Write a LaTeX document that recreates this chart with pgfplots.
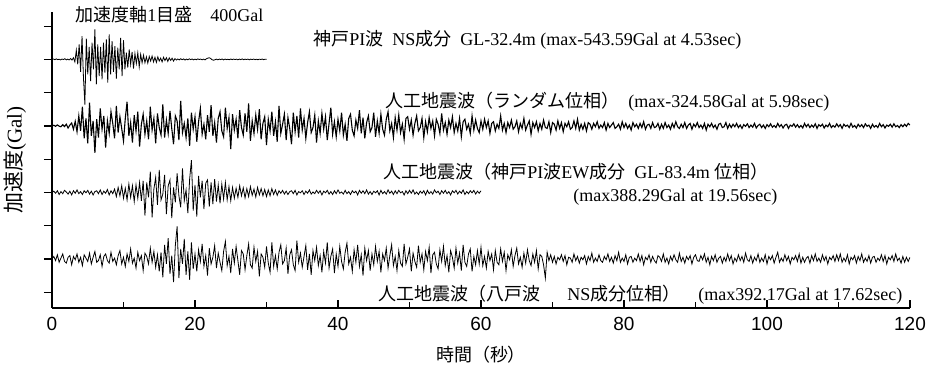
\documentclass[border=0pt]{standalone}
\usepackage{fontspec}
\setmainfont{Liberation Serif}
\newfontfamily\jp{Noto Sans CJK JP}
\newfontfamily\arial{Liberation Sans}
\usepackage{pgfplots}
\usepackage{pgfplotstable}
\pgfplotsset{compat=1.18}
\newcommand{\J}[1]{{\jp #1}}
% Kobe PI NS, GL-32.4m, dt = 0.2 s, 0-30 s
\pgfplotstableread[row sep=\\,header=false]{
0\\5\\-4\\6\\-3\\2\\-6\\4\\-2\\8\\-5\\3\\-7\\10\\-8\\
20\\-30\\110\\-60\\
180\\-150\\280\\-220\\-543\\250\\-180\\
150\\-260\\200\\-120\\360\\-300\\180\\
-200\\150\\-240\\200\\-160\\240\\-280\\300\\
-180\\220\\-150\\160\\-230\\140\\-120\\260\\-200\\230\\
-120\\80\\-100\\120\\-60\\90\\-110\\70\\-50\\80\\-90\\60\\-40\\50\\
-40\\30\\-45\\35\\-20\\40\\-30\\25\\-35\\30\\-20\\15\\-30\\25\\-15\\20\\-25\\18\\-12\\15\\-20\\10\\-8\\
5\\-6\\8\\-4\\6\\-8\\4\\-5\\7\\-3\\
5\\-6\\3\\-4\\6\\-2\\4\\-5\\3\\-6\\
8\\15\\20\\10\\-5\\-10\\-4\\3\\-5\\4\\
-3\\5\\-6\\4\\-3\\2\\-4\\5\\-3\\4\\
-2\\3\\-5\\4\\-3\\6\\-4\\3\\-2\\4\\
-5\\3\\-2\\4\\-3\\2\\-4\\3\\-2\\4\\
-3\\2\\0\\
}\wA
% artificial, random phase, dt = 0.25 s, 0-120 s
\pgfplotstableread[row sep=\\,header=false]{
0\\8\\-5\\12\\-3\\-10\\15\\-8\\20\\-25\\10\\35\\-40\\55\\-70\\
120\\-60\\230\\-150\\90\\-210\\280\\-120\\60\\-324\\
80\\-140\\210\\-40\\120\\-260\\60\\-90\\170\\30\\
-150\\240\\-80\\110\\-30\\-180\\90\\290\\-120\\40\\
-200\\130\\-60\\170\\-250\\20\\140\\-100\\60\\-160\\
230\\-50\\90\\-210\\150\\-20\\-110\\260\\-140\\70\\
-90\\180\\-30\\-220\\120\\60\\-170\\300\\-80\\30\\
-140\\90\\-240\\160\\-40\\110\\-190\\50\\210\\-100\\
20\\-160\\130\\-70\\250\\-120\\40\\-200\\90\\170\\
-60\\-130\\220\\-30\\100\\-280\\140\\-50\\80\\-150\\
190\\-20\\-110\\150\\-70\\270\\-180\\60\\-90\\130\\
-40\\200\\-160\\30\\110\\-230\\80\\-60\\170\\-120\\
50\\-190\\240\\-90\\20\\140\\-170\\100\\-30\\-220\\
160\\-70\\120\\-140\\210\\-50\\
90\\-150\\40\\170\\-80\\-20\\130\\-200\\60\\-90\\
150\\-40\\110\\-170\\30\\220\\-100\\50\\-130\\80\\
-60\\160\\-110\\20\\-180\\90\\140\\-50\\-120\\70\\
-30\\190\\-90\\100\\-150\\40\\120\\-70\\-20\\160\\
-130\\60\\-90\\140\\-40\\-110\\80\\170\\-60\\30\\
-140\\100\\-50\\130\\-80\\20\\-160\\90\\110\\-40\\
70\\-110\\30\\120\\-60\\-20\\90\\-140\\50\\-70\\
100\\-30\\60\\-120\\80\\20\\-90\\150\\-50\\40\\
-100\\70\\-20\\110\\-80\\30\\-60\\90\\-130\\50\\
80\\-40\\20\\-90\\120\\-50\\70\\-30\\-80\\60\\
-40\\80\\-20\\60\\-90\\30\\50\\-60\\20\\-30\\
120\\-50\\30\\-80\\40\\-20\\70\\-40\\-10\\60\\
-70\\30\\-30\\90\\-50\\10\\60\\-100\\40\\-20\\
50\\-60\\30\\-40\\70\\-20\\-30\\50\\-80\\40\\
20\\-50\\60\\-30\\40\\-70\\30\\-10\\50\\-40\\
-20\\60\\-30\\80\\-50\\20\\-40\\30\\-60\\40\\
20\\-40\\30\\-10\\50\\-30\\10\\-20\\40\\-50\\
30\\-20\\10\\40\\-30\\-10\\20\\-40\\50\\-20\\
30\\-30\\10\\-50\\40\\-10\\20\\-30\\30\\-20\\
50\\-40\\10\\20\\-30\\40\\-20\\-10\\30\\-40\\
20\\-30\\40\\-20\\10\\-40\\30\\-20\\50\\-10\\
-30\\20\\-20\\40\\-30\\10\\30\\-40\\20\\-10\\
40\\-20\\10\\-30\\30\\-50\\20\\-10\\30\\-20\\
10\\-40\\20\\30\\-20\\-10\\40\\-30\\20\\-20\\
20\\-10\\30\\-20\\10\\-30\\15\\-5\\25\\-20\\
10\\-15\\30\\-25\\5\\20\\-20\\10\\-30\\15\\
-10\\25\\-15\\5\\-20\\30\\-10\\15\\-25\\10\\
20\\-30\\10\\-5\\25\\-15\\15\\-20\\5\\-25\\
30\\-10\\20\\-20\\10\\-15\\25\\-30\\15\\-5\\
20\\-25\\10\\-10\\30\\-20\\5\\-15\\25\\-10\\
15\\-30\\20\\-5\\10\\-20\\30\\-15\\5\\-25\\
20\\-10\\15\\-20\\25\\-5\\10\\-30\\20\\-15\\
5\\-20\\30\\-10\\15\\-25\\10\\-5\\20\\-15\\
25\\-10\\5\\-20\\15\\-10\\20\\-5\\30\\10\\
}\wB
% artificial, Kobe PI EW GL-83.4m phase, dt = 0.25 s, 0-60 s
\pgfplotstableread[row sep=\\,header=false]{
0\\15\\-10\\20\\-25\\10\\-15\\25\\5\\-20\\15\\-30\\20\\-10\\30\\-15\\10\\-25\\
20\\-5\\25\\-20\\15\\-30\\10\\20\\-15\\30\\-25\\15\\-10\\35\\-30\\20\\-15\\40\\
-50\\60\\-40\\80\\-70\\50\\-90\\100\\-60\\80\\-110\\90\\-70\\120\\-100\\140\\
-280\\120\\-60\\250\\-300\\40\\180\\-150\\270\\-90\\
-20\\210\\-260\\80\\150\\-310\\60\\-120\\230\\-40\\
-180\\290\\-100\\30\\-250\\160\\388\\-220\\90\\-290\\
200\\-60\\140\\-200\\110\\
150\\-170\\120\\-140\\160\\-110\\90\\-130\\100\\-80\\120\\-90\\70\\-100\\
60\\-70\\50\\-60\\80\\-40\\55\\-65\\45\\-50\\70\\-35\\40\\-55\\60\\-30\\45\\-40\\35\\-50\\30\\-40\\45\\-25\\30\\-35\\
20\\-10\\25\\-20\\15\\-25\\10\\20\\-15\\25\\-30\\10\\-5\\20\\-25\\15\\-10\\30\\-20\\5\\
-15\\25\\-10\\20\\-30\\15\\-5\\25\\-20\\10\\-25\\20\\-15\\30\\-10\\5\\-20\\25\\-15\\10\\
-25\\20\\-5\\15\\-30\\25\\-10\\20\\-15\\30\\-20\\10\\-25\\15\\-5\\20\\-30\\25\\-15\\10\\
-20\\30\\-10\\15\\-25\\20\\-15\\25\\-5\\10\\-30\\20\\-15\\25\\-10\\30\\-20\\5\\-25\\15\\
-10\\20\\-30\\25\\-15\\10\\-20\\30\\-5\\15\\-25\\20\\-10\\25\\-15\\10\\-30\\20\\-5\\25\\
-20\\15\\-10\\30\\-25\\10\\-15\\20\\-5\\25\\-20\\15\\-10\\20\\
}\wC
% artificial, Hachinohe NS phase, dt = 0.25 s, 0-120 s
\pgfplotstableread[row sep=\\,header=false]{
0\\30\\-20\\50\\-40\\10\\60\\-30\\-50\\20\\
40\\-70\\30\\-10\\60\\-40\\20\\-80\\50\\10\\
-30\\70\\-60\\20\\90\\-40\\-20\\50\\-90\\30\\
60\\-20\\-50\\80\\-30\\10\\-70\\40\\100\\-60\\
20\\-90\\60\\-30\\120\\-50\\10\\-110\\80\\-20\\
40\\-140\\70\\30\\-60\\130\\-40\\90\\-100\\50\\
-150\\80\\-220\\170\\-60\\250\\-180\\40\\-280\\160\\
392\\-230\\120\\-60\\240\\-190\\90\\-250\\200\\-120\\
60\\-150\\110\\-30\\180\\-90\\40\\-200\\130\\-60\\
20\\160\\-110\\70\\-40\\-140\\90\\210\\-80\\30\\
-170\\120\\-50\\150\\-20\\-190\\100\\60\\-130\\40\\
180\\-70\\-110\\140\\-30\\90\\-210\\60\\20\\-100\\
150\\-50\\-160\\200\\-90\\40\\-120\\80\\170\\-60\\
-20\\130\\-180\\50\\110\\-70\\-140\\220\\-40\\70\\
-100\\30\\160\\-130\\60\\-190\\100\\-20\\140\\-80\\
40\\-160\\90\\-50\\200\\-110\\30\\120\\-170\\60\\
-90\\150\\-30\\-120\\80\\190\\-60\\20\\-150\\110\\
-40\\170\\-90\\50\\-200\\130\\-20\\100\\-140\\60\\
-70\\150\\-30\\90\\-160\\60\\-20\\130\\-110\\40\\
170\\-80\\30\\-140\\100\\-50\\-90\\180\\-60\\20\\
120\\-150\\70\\-30\\-100\\160\\-40\\60\\-130\\90\\
-20\\140\\-170\\50\\80\\-60\\-120\\110\\-30\\150\\
-80\\40\\-160\\100\\20\\-110\\130\\-50\\70\\-140\\
170\\-40\\-90\\60\\120\\-150\\30\\-70\\100\\-60\\
140\\-80\\30\\-110\\90\\-20\\60\\-130\\100\\-40\\
-70\\120\\-30\\80\\-140\\50\\-10\\110\\-90\\40\\
130\\-60\\20\\-100\\70\\-50\\110\\-20\\-80\\60\\
-40\\100\\-120\\50\\30\\-70\\-230\\80\\-20\\50\\
-40\\30\\-60\\20\\-10\\50\\-30\\40\\-70\\20\\
10\\-40\\60\\-20\\30\\-50\\20\\-10\\40\\-60\\
30\\-20\\70\\-40\\10\\-30\\50\\-20\\-40\\30\\
-10\\60\\-30\\20\\-50\\40\\-20\\80\\-40\\10\\
-30\\50\\-60\\20\\30\\-40\\10\\-20\\60\\-30\\
40\\-70\\20\\-10\\50\\-40\\30\\-20\\-50\\40\\
20\\-30\\60\\-40\\10\\-60\\30\\-20\\50\\-10\\
-40\\70\\-30\\20\\-50\\30\\-10\\40\\-60\\20\\
50\\-20\\-30\\40\\-10\\60\\-40\\20\\-70\\30\\
-20\\50\\-40\\10\\30\\-50\\20\\-30\\60\\-20\\
40\\-60\\10\\-30\\50\\-20\\30\\-40\\70\\-10\\
-30\\40\\-50\\20\\-20\\60\\-40\\10\\-30\\50\\
-60\\30\\-10\\40\\-50\\20\\80\\-40\\10\\-30\\
50\\-20\\30\\-60\\20\\-10\\40\\-30\\60\\-50\\
20\\-40\\10\\30\\-50\\40\\-20\\60\\-30\\10\\
-40\\50\\-20\\30\\-60\\20\\-10\\40\\-30\\50\\
-20\\60\\-40\\10\\-30\\50\\-60\\20\\-10\\40\\
-50\\30\\-20\\60\\-40\\10\\-30\\40\\-50\\20\\
30\\-40\\10\\-20\\50\\-30\\40\\-60\\20\\-10\\
40\\-30\\60\\-20\\10\\-50\\30\\-40\\20\\-30\\
20\\
}\wD
\begin{document}
\begin{tikzpicture}
\path[use as bounding box] (-26pt,-30.5pt) rectangle (441pt,154pt);
\begin{axis}[
  scale only axis, width=429pt, height=148pt,
  xmin=0, xmax=120, ymin=-590, ymax=2970,
  axis lines*=left,
  axis line style={line width=0.8pt},
  xtick={0,20,...,120}, minor xtick={10,30,...,110},
  ytick={-400,0,...,2800}, yticklabels={},
  xtick align=inside, ytick align=outside,
  major tick length=4pt, minor tick length=3pt,
  tick style={line width=0.6pt, black},
  xticklabel style={font=\arial\fontsize{9.5}{11}\selectfont, yshift=-1pt},
  /pgf/number format/assume math mode=true,
  cycle list={{black, line width=0.55pt, no marks}},
]
\addplot table[x index=0, y index=0, x expr=\coordindex*0.2, y expr=\thisrowno{0}+2400]{\wA};
\addplot table[x index=0, y index=0, x expr=\coordindex*0.25, y expr=\thisrowno{0}+1600]{\wB};
\addplot table[x index=0, y index=0, x expr=\coordindex*0.25, y expr=\thisrowno{0}+800]{\wC};
\addplot table[x index=0, y index=0, x expr=\coordindex*0.25, y expr=\thisrowno{0}]{\wD};
\end{axis}
\begin{scope}[every node/.style={inner sep=0pt, font=\fontsize{9}{10}\selectfont}]
\node[anchor=west] at (11.5pt,146.5pt) {\J{加速度軸}1\J{目盛}\quad 400Gal};
\node[anchor=west] at (130.5pt,134pt) {\J{神戸}PI\J{波}\ \ NS\J{成分}\ \ GL-32.4m (max-543.59Gal at 4.53sec)};
\node[anchor=west] at (166.5pt,103pt) {\J{人工地震波（ランダム位相）}\ \ (max-324.58Gal at 5.98sec)};
\node[anchor=west] at (165.5pt,68pt) {\J{人工地震波（神戸}PI\J{波}EW\J{成分}\ \ GL-83.4m \J{位相）}};
\node[anchor=west] at (260.5pt,55.5pt) {(max388.29Gal at 19.56sec)};
\node[anchor=west] at (163pt,6.5pt) {\J{人工地震波（八戸波}\hspace{1.5em}NS\J{成分位相）}\quad(max392.17Gal at 17.62sec)};
\node[anchor=center] at (214.5pt,-23.5pt) {\J{時間（秒）}};
\node[anchor=center, rotate=90, font=\fontsize{10.5}{12}\selectfont] at (-18.5pt,74pt) {\J{加速度}(Gal)};
\end{scope}
\end{tikzpicture}
\end{document}
